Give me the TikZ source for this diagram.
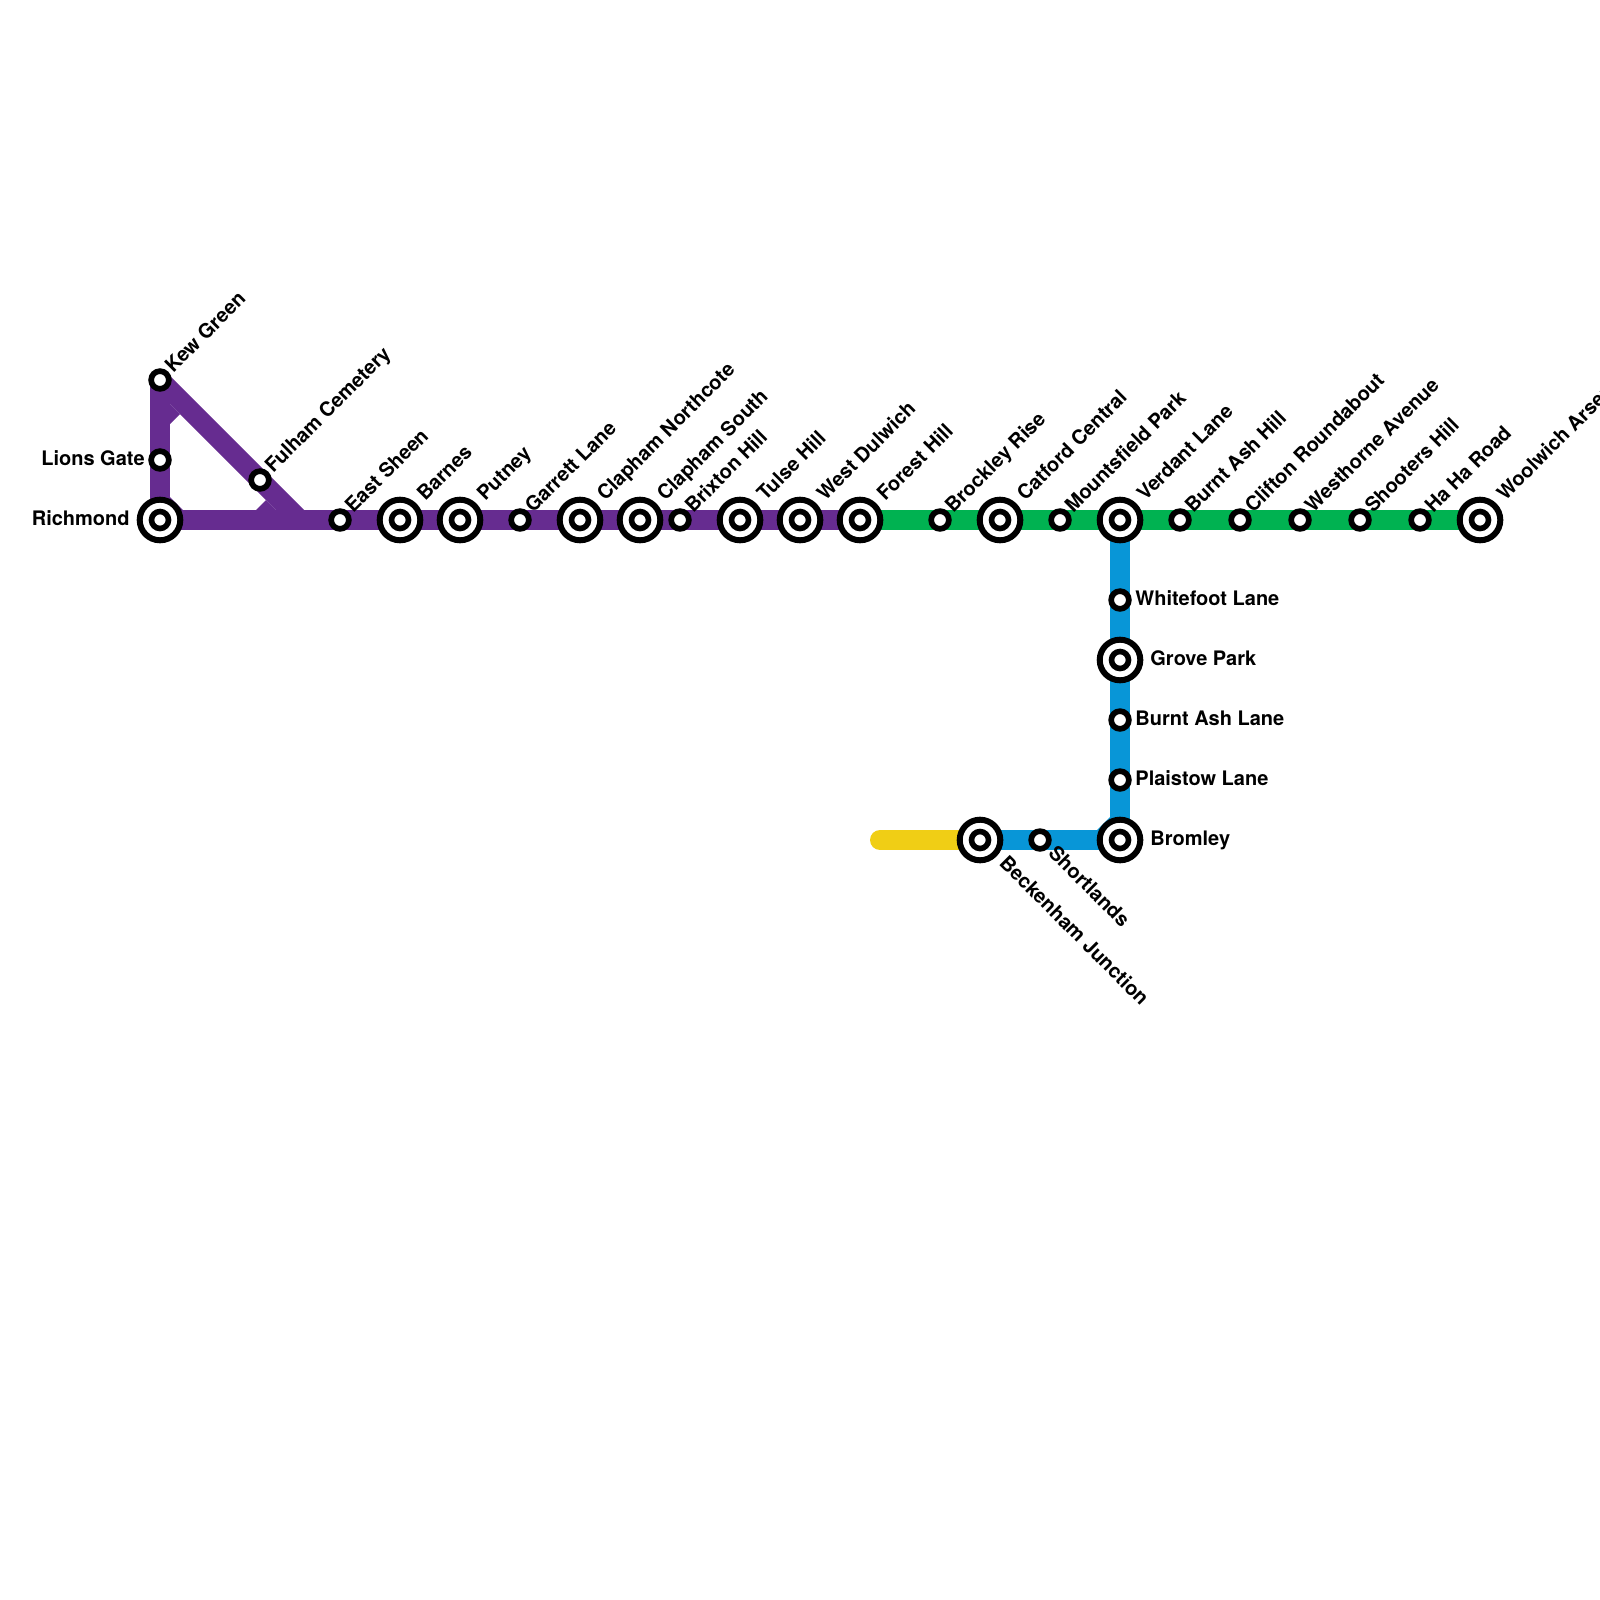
\documentclass[tikz,border=0pt]{standalone}
\usepackage{fontspec}
\setmainfont{TeX Gyre Heros}
\usetikzlibrary{backgrounds}
\definecolor{metroPurple}{HTML}{662C90}
\definecolor{metroGreen}{HTML}{00B251}
\definecolor{metroBlue}{HTML}{0896D7}
\definecolor{metroYellow}{HTML}{F0CE15}
\tikzset{
  stop/.style={circle,draw=black,fill=white,line width=2.85pt,minimum size=8.85pt,inner sep=0pt},
  hub/.style={circle,draw=black,fill=white,line width=3pt,minimum size=20.3pt,inner sep=0pt,
    path picture={\draw[line width=2.8pt] (path picture bounding box.center) circle (4.25pt);}},
  track/.style={line width=10pt},
  stationName/.style={inner sep=0pt,font=\bfseries\fontsize{10}{10}\selectfont,text=black},
  nameUp/.style={stationName,rotate=45,anchor=base west},
  nameDown/.style={stationName,rotate=-45,anchor=base west},
  nameRight/.style={stationName,anchor=base west},
  nameLeft/.style={stationName,anchor=base east}
}
\begin{document}
\begin{tikzpicture}[x=0.5pt,y=-0.5pt]
\useasboundingbox (0,0) rectangle (1600,1600);
% purple line
\node[hub] (richmond) at (160,520) {};
\node[stop] (lionsGate) at (160,460) {};
\node[stop] (kewGreen) at (160,380) {};
\node[stop] (fulham) at (260,480) {};
\coordinate (purpleJoin) at (300,520);
\node[stop] (eastSheen) at (340,520) {};
\node[hub] (barnes) at (400,520) {};
\node[hub] (putney) at (460,520) {};
\node[stop] (garrett) at (520,520) {};
\node[hub] (claphamN) at (580,520) {};
\node[hub] (claphamS) at (640,520) {};
\node[stop] (brixton) at (680,520) {};
\node[hub] (tulse) at (740,520) {};
\node[hub] (dulwich) at (800,520) {};
\node[hub] (forest) at (860,520) {};
% green line
\node[stop] (brockley) at (940,520) {};
\node[hub] (catford) at (1000,520) {};
\node[stop] (mountsfield) at (1060,520) {};
\node[hub] (verdant) at (1120,520) {};
\node[stop] (burntHill) at (1180,520) {};
\node[stop] (clifton) at (1240,520) {};
\node[stop] (westhorne) at (1300,520) {};
\node[stop] (shooters) at (1360,520) {};
\node[stop] (haha) at (1420,520) {};
\node[hub] (woolwich) at (1480,520) {};
% blue line
\node[stop] (whitefoot) at (1120,600) {};
\node[hub] (grove) at (1120,660) {};
\node[stop] (burntLane) at (1120,720) {};
\node[stop] (plaistow) at (1120,780) {};
\node[hub] (bromley) at (1120,840) {};
\node[stop] (shortlands) at (1040,840) {};
\node[hub] (beckenham) at (980,840) {};
\coordinate (yellowEnd) at (880,840);
% tracks
\begin{scope}[on background layer]
\draw[track,metroPurple] (richmond.center) -- (kewGreen.center);
\draw[track,metroPurple] (kewGreen.center) -- (purpleJoin);
\draw[track,metroPurple] (richmond.center) -- (eastSheen.center) -- (barnes.center) -- (putney.center)
  -- (garrett.center) -- (claphamN.center) -- (claphamS.center) -- (brixton.center) -- (tulse.center)
  -- (dulwich.center) -- (forest.center);
\fill[metroPurple] (170,424) -- (180,414) -- (170,404) -- cycle;
\fill[metroPurple] (256,510) -- (266,500) -- (276,510) -- cycle;
\fill[metroPurple] (170,510) -- (170,497) -- (183,510) -- cycle;
\draw[track,metroBlue] (verdant.center) -- (whitefoot.center) -- (grove.center) -- (burntLane.center)
  -- (plaistow.center) -- (bromley.center);
\draw[track,metroBlue] (bromley.center) -- (shortlands.center) -- (beckenham.center);
\fill[metroBlue] (1110,830) -- (1110,817) -- (1097,830) -- cycle;
\draw[track,metroGreen] (forest.center) -- (brockley.center) -- (catford.center) -- (mountsfield.center)
  -- (verdant.center) -- (burntHill.center) -- (clifton.center) -- (westhorne.center) -- (shooters.center)
  -- (haha.center) -- (woolwich.center);
\draw[track,metroYellow,line cap=round] (yellowEnd) -- (beckenham.center);
\end{scope}
% names
\node[nameLeft] (richmondName) at (130,525) {Richmond};
\node[nameLeft] (lionsName) at (145,465) {Lions Gate};
\node[nameUp] (kewName) at (173,374) {Kew Green};
\node[nameUp] (fulhamName) at (273,474) {Fulham Cemetery};
\node[nameUp] (sheenName) at (353,514) {East Sheen};
\node[nameUp] (barnesName) at (425,502) {Barnes};
\node[nameUp] (putneyName) at (485,502) {Putney};
\node[nameUp] (garrettName) at (533,514) {Garrett Lane};
\node[nameUp] (claphamNName) at (605,502) {Clapham Northcote};
\node[nameUp] (claphamSName) at (665,502) {Clapham South};
\node[nameUp] (brixtonName) at (693,514) {Brixton Hill};
\node[nameUp] (tulseName) at (765,502) {Tulse Hill};
\node[nameUp] (dulwichName) at (825,502) {West Dulwich};
\node[nameUp] (forestName) at (885,502) {Forest Hill};
\node[nameUp] (brockleyName) at (953,514) {Brockley Rise};
\node[nameUp] (catfordName) at (1025,502) {Catford Central};
\node[nameUp] (mountsfieldName) at (1073,514) {Mountsfield Park};
\node[nameUp] (verdantName) at (1145,502) {Verdant Lane};
\node[nameUp] (burntHillName) at (1193,514) {Burnt Ash Hill};
\node[nameUp] (cliftonName) at (1253,514) {Clifton Roundabout};
\node[nameUp] (westhorneName) at (1313,514) {Westhorne Avenue};
\node[nameUp] (shootersName) at (1373,514) {Shooters Hill};
\node[nameUp] (hahaName) at (1433,514) {Ha Ha Road};
\node[nameUp] (woolwichName) at (1505,502) {Woolwich Arsenal};
\node[nameRight] (whitefootName) at (1135,605) {Whitefoot Lane};
\node[nameRight] (groveName) at (1150,665) {Grove Park};
\node[nameRight] (burntLaneName) at (1135,725) {Burnt Ash Lane};
\node[nameRight] (plaistowName) at (1135,785) {Plaistow Lane};
\node[nameRight] (bromleyName) at (1150,845) {Bromley};
\node[nameDown] (shortlandsName) at (1047,854) {Shortlands};
\node[nameDown] (beckenhamName) at (998,864) {Beckenham Junction};
\end{tikzpicture}
\end{document}
